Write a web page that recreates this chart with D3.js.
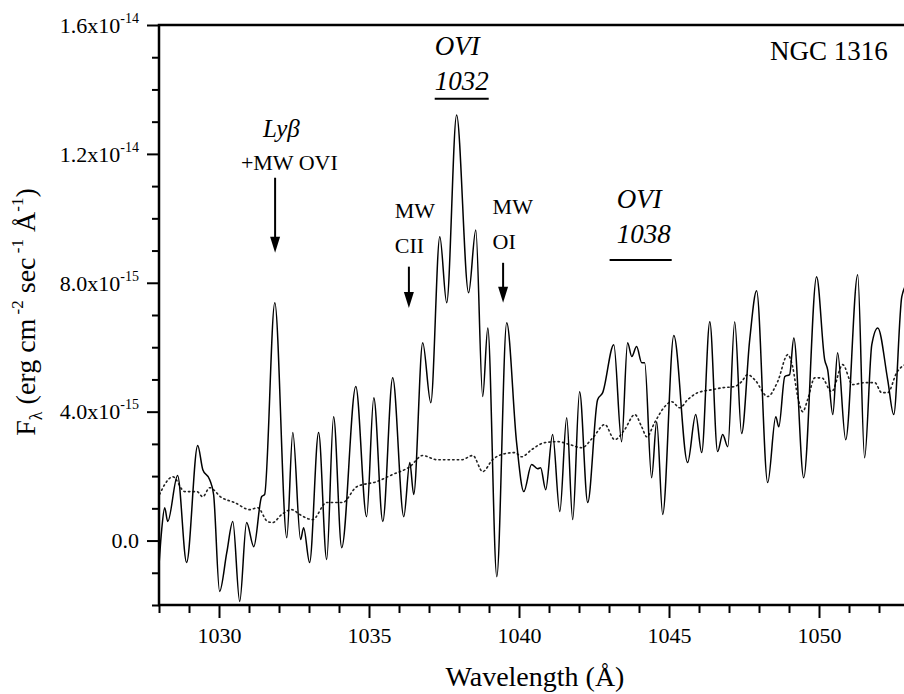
<!DOCTYPE html>
<html><head><meta charset="utf-8">
<script src="https://cdn.jsdelivr.net/npm/d3@7"></script>
<style>body{margin:0;background:#fff}svg{display:block}</style>
</head><body><svg id="c" width="904" height="694"></svg>
<script>
// Observed spectrum (wavelength in Å, flux in units of 1e-15 erg cm^-2 s^-1 Å^-1)
const obsWave = [1027.99,1028.09,1028.19,1028.29,1028.62,1028.92,1029.29,1029.46,1029.69,1029.82,1030.02,1030.26,1030.46,1030.69,1030.92,1031.16,1031.42,1031.52,1031.86,1032.26,1032.46,1032.72,1032.82,1033.02,1033.32,1033.59,1033.82,1034.09,1034.56,1034.92,1035.16,1035.46,1035.79,1036.16,1036.36,1036.49,1036.79,1037.06,1037.36,1037.59,1037.92,1038.32,1038.56,1038.79,1038.96,1039.26,1039.59,1039.92,1040.16,1040.42,1040.62,1040.72,1040.89,1041.12,1041.36,1041.59,1041.79,1042.02,1042.29,1042.62,1042.79,1043.16,1043.42,1043.62,1043.76,1043.92,1044.09,1044.19,1044.42,1044.59,1044.79,1045.16,1045.62,1045.89,1046.09,1046.36,1046.62,1046.79,1046.96,1047.19,1047.42,1047.69,1047.92,1048.29,1048.56,1048.66,1048.86,1049.02,1049.16,1049.49,1049.92,1050.19,1050.29,1050.46,1050.62,1050.89,1051.29,1051.52,1051.76,1051.96,1052.29,1052.49,1052.76,1052.95];
const obsFlux = [-0.90,0.34,1.02,0.59,2.02,-0.68,2.95,2.20,1.89,1.43,-1.58,-0.37,0.59,-1.89,0.56,-0.19,1.36,1.43,7.38,0.09,3.35,0.03,0.40,-0.68,3.35,-0.59,3.84,-0.22,4.78,0.74,4.43,0.59,5.05,0.74,2.42,1.43,6.14,4.28,9.43,7.38,13.21,7.69,9.64,4.47,6.60,-1.12,6.76,3.04,1.52,2.36,2.23,2.26,1.58,3.29,0.90,3.81,0.65,4.62,1.18,4.37,4.59,6.08,3.07,6.14,5.71,6.02,5.52,5.52,1.95,3.69,0.81,6.36,2.42,3.91,2.73,6.79,2.76,3.29,2.91,6.79,3.32,6.23,7.75,1.80,3.84,3.53,5.09,5.15,6.29,1.95,8.19,5.61,5.30,3.91,5.83,3.13,8.25,2.57,6.08,6.60,4.99,3.91,7.57,8.0];
// Comparison (dotted) spectrum
const refWave = [1028.02,1028.19,1028.46,1028.86,1029.26,1029.46,1029.69,1030.09,1030.52,1031.02,1031.29,1031.62,1031.79,1032.09,1032.42,1032.69,1032.96,1033.12,1033.59,1034.12,1034.59,1035.26,1035.79,1036.36,1036.79,1037.26,1037.79,1038.09,1038.46,1038.79,1039.12,1039.42,1039.86,1040.09,1040.42,1040.86,1041.29,1041.69,1042.09,1042.46,1042.86,1043.19,1043.52,1043.86,1044.09,1044.26,1044.52,1044.86,1045.09,1045.36,1045.62,1045.96,1046.42,1046.76,1047.19,1047.42,1047.62,1047.86,1048.29,1048.62,1048.96,1049.12,1049.29,1049.46,1049.62,1049.86,1050.09,1050.42,1050.79,1051.12,1051.52,1051.86,1052.09,1052.29,1052.59,1052.95];
const refFlux = [1.43,1.74,1.98,1.52,1.52,1.36,1.64,1.33,1.18,0.96,1.02,0.59,0.56,0.81,0.96,0.81,0.68,0.65,1.18,1.18,1.67,1.83,2.05,2.29,2.64,2.51,2.51,2.51,2.64,2.14,2.51,2.67,2.73,2.60,2.82,3.04,3.07,2.98,2.88,3.19,3.60,3.13,3.44,3.91,3.53,3.22,3.66,4.16,4.31,4.12,4.37,4.59,4.68,4.74,4.78,4.93,5.15,4.99,4.47,4.93,5.77,5.40,4.47,4.00,4.37,5.05,5.05,4.62,5.46,4.84,4.90,4.90,4.59,4.59,5.21,5.5];

const xDomain = [1028, 1053];
const yDomain = [-2, 16];
const xMajorTicks = [1030, 1035, 1040, 1045, 1050];
const yMajorTicks = [0, 4, 8, 12, 16];
const yTickMantissa = ["0.0", "4.0x10", "8.0x10", "1.2x10", "1.6x10"];
const yTickExponent = ["", "-15", "-15", "-14", "-14"];

// Annotations (positions in data units: wavelength, flux/1e-15)
const arrows = [
  {x: 1031.87, y0: 11.26, y1: 8.93},
  {x: 1036.33, y0: 8.50, y1: 7.22},
  {x: 1039.47, y0: 8.62, y1: 7.38}
];
const labels = [
  {text: "+MW OVI", x: 1030.73, y: 11.50, size: 22, italic: false},
  {text: "MW", x: 1035.86, y: 10.02, size: 22, italic: false},
  {text: "CII", x: 1035.86, y: 8.93, size: 22, italic: false},
  {text: "MW", x: 1039.12, y: 10.14, size: 22, italic: false},
  {text: "OI", x: 1039.12, y: 9.05, size: 22, italic: false},
  {text: "OVI", x: 1037.19, y: 15.07, size: 27, italic: true},
  {text: "1032", x: 1037.19, y: 13.98, size: 27, italic: true},
  {text: "OVI", x: 1043.26, y: 10.33, size: 27, italic: true},
  {text: "1038", x: 1043.26, y: 9.24, size: 27, italic: true},
  {text: "NGC 1316", x: 1048.37, y: 14.91, size: 27, italic: false}
];
const underlines = [
  {x0: 1037.19, x1: 1038.99, y: 13.71},
  {x0: 1043.02, x1: 1045.09, y: 8.71}
];

const FONT = "'Liberation Serif','Times New Roman',serif";
const L = 159, R = 909, T = 25, B = 605;
const svg = d3.select("#c");
const x = d3.scaleLinear().domain(xDomain).range([L, R]);
const y = d3.scaleLinear().domain(yDomain).range([B, T]);

// clip
svg.append("defs").append("clipPath").attr("id","clip")
  .append("rect").attr("x", L).attr("y", T).attr("width", R-L).attr("height", B-T);

const g = svg.append("g").attr("clip-path","url(#clip)");
const line = d3.line().x(d => x(d[0])).y(d => y(d[1])).curve(d3.curveMonotoneX);

g.append("path").datum(d3.zip(refWave, refFlux))
  .attr("d", line).attr("fill","none").attr("stroke","#222")
  .attr("stroke-width",1.6).attr("stroke-dasharray","1.4,3.2").attr("stroke-linecap","round");

g.append("path").datum(d3.zip(obsWave, obsFlux))
  .attr("d", line).attr("fill","none").attr("stroke","#000")
  .attr("stroke-width",1.5).attr("stroke-linejoin","round");

// minor ticks
const xMinor = d3.range(xDomain[0], xDomain[1] + 0.001, 1).filter(v => !xMajorTicks.includes(v));
const yMinor = d3.range(yDomain[0], yDomain[1] + 0.001, 1).filter(v => !yMajorTicks.includes(v));

const xAxisMinor = svg.append("g").attr("transform", `translate(0,${B})`)
  .call(d3.axisBottom(x).tickValues(xMinor).tickSize(8).tickFormat(""));
const xAxis = svg.append("g").attr("transform", `translate(0,${B})`)
  .call(d3.axisBottom(x).tickValues(xMajorTicks).tickSize(13).tickPadding(9).tickFormat(d3.format("d")));
const yAxisMinor = svg.append("g").attr("transform", `translate(${L},0)`)
  .call(d3.axisLeft(y).tickValues(yMinor).tickSize(7).tickFormat(""));
const yAxis = svg.append("g").attr("transform", `translate(${L},0)`)
  .call(d3.axisLeft(y).tickValues(yMajorTicks).tickSize(12).tickFormat(""));

[xAxisMinor, xAxis, yAxisMinor, yAxis].forEach(a => {
  a.select(".domain").remove();
  a.selectAll("line").attr("stroke","#000").attr("stroke-width",2);
});
xAxis.selectAll("text").attr("font-family", FONT).attr("font-size", 22).attr("fill","#000");

yAxis.selectAll(".tick").each(function(d, i) {
  const t = d3.select(this).append("text")
    .attr("x", -20).attr("dy", "0.33em").attr("text-anchor","end")
    .attr("font-family", FONT).attr("font-size", 22).attr("fill","#000");
  t.append("tspan").text(yTickMantissa[i]);
  if (yTickExponent[i]) t.append("tspan").attr("font-size", 14).attr("dy", -10).text(yTickExponent[i]);
});

// frame
svg.append("rect").attr("x", L).attr("y", T).attr("width", R-L).attr("height", B-T)
  .attr("fill","none").attr("stroke","#000").attr("stroke-width",2.5);

// axis titles
svg.append("text").attr("x", 535).attr("y", 686).attr("text-anchor","middle")
  .attr("font-family", FONT).attr("font-size", 28).attr("fill","#000")
  .text("Wavelength (Å)");

const yt = svg.append("text").attr("transform","translate(35,312) rotate(-90)")
  .attr("text-anchor","middle").attr("font-family", FONT).attr("font-size", 28).attr("fill","#000");
yt.append("tspan").text("F");
yt.append("tspan").attr("font-size", 18).attr("dy", 7).text("λ");
yt.append("tspan").attr("dy", -7).text(" (erg cm");
yt.append("tspan").attr("font-size", 17).attr("dy", -12).text(" -2");
yt.append("tspan").attr("dy", 12).text(" sec");
yt.append("tspan").attr("font-size", 17).attr("dy", -12).text(" -1");
yt.append("tspan").attr("dy", 12).text(" Å");
yt.append("tspan").attr("font-size", 17).attr("dy", -12).text("-1");
yt.append("tspan").attr("dy", 12).text(")");

// annotations
const ly = svg.append("text").attr("x", x(1031.47)).attr("y", y(12.53))
  .attr("font-family", FONT).attr("font-size", 25).attr("font-style","italic").attr("fill","#000");
ly.append("tspan").text("Ly");
ly.append("tspan").text("β");

svg.selectAll("text.lab").data(labels).join("text").attr("class","lab")
  .attr("x", d => x(d.x)).attr("y", d => y(d.y))
  .attr("font-family", FONT).attr("font-size", d => d.size)
  .attr("font-style", d => d.italic ? "italic" : "normal").attr("fill","#000")
  .text(d => d.text);

svg.selectAll("line.ul").data(underlines).join("line").attr("class","ul")
  .attr("x1", d => x(d.x0)).attr("x2", d => x(d.x1))
  .attr("y1", d => y(d.y)).attr("y2", d => y(d.y))
  .attr("stroke","#000").attr("stroke-width",2);

const ag = svg.selectAll("g.arrow").data(arrows).join("g").attr("class","arrow");
ag.append("line").attr("x1", d => x(d.x)).attr("x2", d => x(d.x))
  .attr("y1", d => y(d.y0)).attr("y2", d => y(d.y1) - 10)
  .attr("stroke","#000").attr("stroke-width",2);
ag.append("path").attr("d", d => {
  const px = x(d.x), py = y(d.y1);
  return `M${px-5},${py-16}L${px+5},${py-16}L${px},${py}Z`;
}).attr("fill","#000");
</script></body></html>
